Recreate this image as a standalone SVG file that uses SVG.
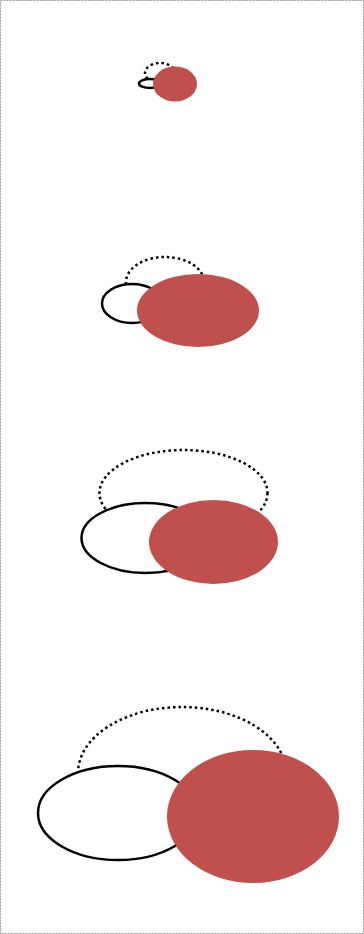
<svg xmlns="http://www.w3.org/2000/svg" width="364" height="934" viewBox="0 0 364 934">
<style>
.frame{fill:#fff;stroke:#9a9a9a;stroke-width:1;stroke-dasharray:2 1}
.dot{fill:none;stroke:#000;stroke-width:2.5;stroke-dasharray:2.5 3}
.solid{fill:#fff;stroke:#000;stroke-width:2.5}
.red{fill:#C0504D;stroke:none}
</style>
<rect class="frame" x="0.5" y="0.5" width="363" height="933"/>
<g id="set1">
<ellipse class="dot" cx="160" cy="73" rx="15" ry="10" stroke-width="2"/>
<ellipse class="solid" cx="150" cy="83.5" rx="11" ry="4.5" stroke-width="2"/>
<ellipse class="red" cx="175" cy="84" rx="22" ry="17.5"/>
</g>
<g id="set2">
<ellipse class="dot" cx="165" cy="282" rx="39" ry="25"/>
<ellipse class="solid" cx="132" cy="303.5" rx="30" ry="19.5"/>
<ellipse class="red" cx="198" cy="310.5" rx="61" ry="36.5"/>
</g>
<g id="set3">
<ellipse class="dot" cx="183.5" cy="493" rx="84" ry="43"/>
<ellipse class="solid" cx="145.5" cy="538" rx="64" ry="35"/>
<ellipse class="red" cx="213.5" cy="542" rx="64.5" ry="42"/>
</g>
<g id="set4">
<ellipse class="dot" cx="182" cy="773" rx="104" ry="66"/>
<ellipse class="solid" cx="118" cy="813" rx="80" ry="47"/>
<ellipse class="red" cx="253" cy="816.5" rx="86" ry="66.5"/>
</g>
<g id="connectors"></g>
</svg>
